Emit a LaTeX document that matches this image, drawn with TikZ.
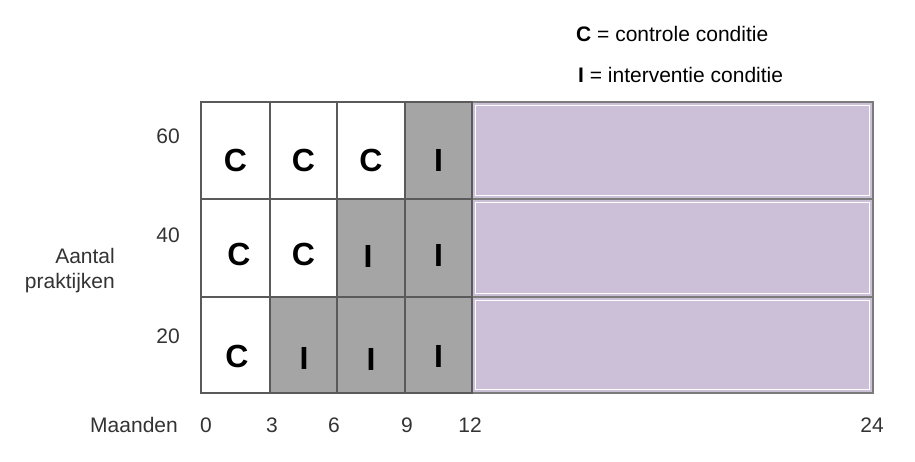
\documentclass[tikz,border=0pt]{standalone}
\usepackage{fontspec}
\setmainfont{Liberation Sans}
\definecolor{cellgray}{HTML}{A5A5A5}
\definecolor{lila}{HTML}{CCBFD8}
\definecolor{edge}{HTML}{5A5A5A}
\definecolor{txt}{HTML}{333333}
\begin{document}
\begin{tikzpicture}[x=1pt,y=-1pt,
  whitecell/.style={draw=edge, line width=1.3pt, fill=white},
  graycell/.style={draw=edge, line width=1.3pt, fill=cellgray},
  lilacell/.style={draw=edge!80, line width=1.3pt, fill=lila},
  letter/.style={font=\fontsize{32}{32}\selectfont\bfseries, text=black, inner sep=0pt},
  lab/.style={font=\fontsize{21}{25}\selectfont, text=txt, inner sep=0pt},
]
\useasboundingbox (0,0) rectangle (915,462);

% purple extension rows
\foreach \ya/\yb/\n in {102/199/a,199/297/b,297/393/c}{
  \draw[lilacell] (472,\ya) rectangle (873,\yb);
  \draw[white, line width=0.8pt] (475.5,\ya+3.5) rectangle (869.5,\yb-3.5);
}

% row 60 (top)
\draw[whitecell] (201,102) rectangle (270,199);
\draw[whitecell] (270,102) rectangle (337,199);
\draw[whitecell] (337,102) rectangle (405,199);
\draw[graycell]  (405,102) rectangle (472,199);
% row 40
\draw[whitecell] (201,199) rectangle (270,297);
\draw[whitecell] (270,199) rectangle (337,297);
\draw[graycell]  (337,199) rectangle (405,297);
\draw[graycell]  (405,199) rectangle (472,297);
% row 20
\draw[whitecell] (201,297) rectangle (270,393);
\draw[graycell]  (270,297) rectangle (337,393);
\draw[graycell]  (337,297) rectangle (405,393);
\draw[graycell]  (405,297) rectangle (472,393);

% letters
\node[letter] (r1c1) at (235.5,160) {C};
\node[letter] (r1c2) at (303.5,160) {C};
\node[letter] (r1c3) at (371,160) {C};
\node[letter] (r1c4) at (438.5,160) {I};
\node[letter] (r2c1) at (239,254) {C};
\node[letter] (r2c2) at (303.5,254) {C};
\node[letter] (r2c3) at (368,256) {I};
\node[letter] (r2c4) at (438.5,255) {I};
\node[letter] (r3c1) at (237,356) {C};
\node[letter] (r3c2) at (304,358) {I};
\node[letter] (r3c3) at (371,359) {I};
\node[letter] (r3c4) at (438.5,356) {I};

% y labels
\node[lab, anchor=east] (y60) at (180,136) {60};
\node[lab, anchor=east] (y40) at (180,235) {40};
\node[lab, anchor=east] (y20) at (180,336) {20};
\node[lab, anchor=east, align=right] (ylab) at (115,271) {Aantal\\praktijken};

% x labels
\node[lab, anchor=east] (xlab) at (178,425) {Maanden};
\node[lab] (x0) at (206,425) {0};
\node[lab] (x3) at (272,425) {3};
\node[lab] (x6) at (334,425) {6};
\node[lab] (x9) at (407,425) {9};
\node[lab] (x12) at (470,425) {12};
\node[lab] (x24) at (872,425) {24};

% legend
\node[lab, anchor=west, text=black] (legC) at (576,34) {\textbf{C} = controle conditie};
\node[lab, anchor=west, text=black] (legI) at (578,75) {\textbf{I} = interventie conditie};
\end{tikzpicture}
\end{document}
